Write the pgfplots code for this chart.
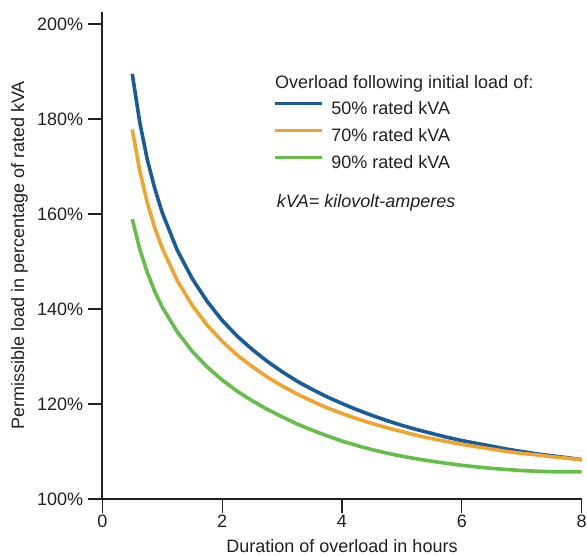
\documentclass[border=0pt]{standalone}
\usepackage{pgfplots}
\pgfplotsset{compat=1.18}
\usepackage{fontspec}
\setmainfont{Liberation Sans}
\definecolor{cblue}{RGB}{24,92,156}
\definecolor{corange}{RGB}{240,163,45}
\definecolor{cgreen}{RGB}{100,190,72}
\definecolor{ctext}{RGB}{35,31,32}
\begin{document}
\begin{tikzpicture}[font=\fontsize{18bp}{21bp}\selectfont, every node/.style={text=ctext}]
\useasboundingbox (-102.3bp,-57bp) rectangle (484.7bp,499bp);
\begin{axis}[
  at={(0,0)}, anchor=south west,
  scale only axis, width=479.4bp, height=486.9bp,
  xmin=0, xmax=8, ymin=100, ymax=202.5,
  axis lines=left,
  axis line style={-, line width=1.6bp, ctext},
  xtick={0,2,4,6,8}, ytick={100,120,140,160,180,200},
  tick style={line width=1.1bp, ctext},
  tick align=outside,
  major tick length=14bp,
  /pgf/number format/assume math mode=true,
  yticklabel={\pgfmathprintnumber{\tick}\%},
  ticklabel style={font=\fontsize{18bp}{21bp}\selectfont, text=ctext},
  xticklabel style={inner sep=1bp, yshift=-1bp},
  yticklabel style={inner sep=1bp, xshift=-4bp},
  xlabel={Duration of overload in hours},
  ylabel={Permissible load in percentage of rated kVA},
  label style={font=\fontsize{18bp}{21bp}\selectfont, text=ctext},
  xlabel style={at={(axis description cs:0.5,0)}, anchor=north, yshift=-37bp},
  ylabel style={at={(axis description cs:0,0.5)}, anchor=south, yshift=71bp},
  legend cell align=left,
  legend image code/.code={\draw[#1] (0bp,6.3bp) -- (47bp,6.3bp); \path (55bp,0bp);},
  legend style={draw=none, fill=none, inner sep=0pt, outer sep=0pt,
    at={(rel axis cs:0.3555,0.8164)}, anchor=north west,
    nodes={inner sep=0pt, text height=13bp, text depth=4bp, text=ctext},
    row sep=10bp, font=\fontsize{18bp}{21bp}\selectfont},
  every axis plot/.append style={line width=3.6bp, line join=round},
]
\addplot[cblue] coordinates {
(0.5,189.5) (0.625,179.3) (0.75,171.5) (0.875,165.4) (1.0,160.3) (1.25,152.4)
(1.5,146.4) (1.75,141.6) (2.0,137.6) (2.25,134.3) (2.5,131.5) (2.75,129.0)
(3.0,126.8) (3.25,124.8) (3.5,123.1) (3.75,121.5) (4.0,120.1) (4.25,118.8)
(4.5,117.6) (4.75,116.5) (5.0,115.5) (5.25,114.6) (5.5,113.8) (5.75,113.0)
(6.0,112.3) (6.25,111.7) (6.5,111.1) (6.75,110.5) (7.0,110.0) (7.25,109.5)
(7.5,109.1) (7.75,108.7) (8.0,108.3)};
\addlegendentry{50\% rated kVA}
\addplot[corange] coordinates {
(0.5,177.8) (0.625,169.1) (0.75,162.4) (0.875,157.1) (1.0,152.8) (1.25,146.0)
(1.5,140.8) (1.75,136.6) (2.0,133.2) (2.25,130.3) (2.5,127.9) (2.75,125.7)
(3.0,123.8) (3.25,122.1) (3.5,120.6) (3.75,119.2) (4.0,118.0) (4.25,116.9)
(4.5,115.9) (4.75,115.0) (5.0,114.2) (5.25,113.4) (5.5,112.7) (5.75,112.1)
(6.0,111.5) (6.25,111.0) (6.5,110.5) (6.75,110.0) (7.0,109.6) (7.25,109.3)
(7.5,108.9) (7.75,108.6) (8.0,108.3)};
\addlegendentry{70\% rated kVA}
\addplot[cgreen] coordinates {
(0.5,158.9) (0.625,152.6) (0.75,147.7) (0.875,143.7) (1.0,140.4) (1.25,135.2)
(1.5,131.1) (1.75,127.8) (2.0,125.05) (2.25,122.7) (2.5,120.7) (2.75,118.9)
(3.0,117.3) (3.25,115.8) (3.5,114.5) (3.75,113.3) (4.0,112.2) (4.25,111.25)
(4.5,110.4) (4.75,109.65) (5.0,109.0) (5.25,108.45) (5.5,107.95) (5.75,107.5)
(6.0,107.1) (6.25,106.75) (6.5,106.45) (6.75,106.2) (7.0,106.0) (7.25,105.85)
(7.5,105.75) (7.75,105.7) (8.0,105.7)};
\addlegendentry{90\% rated kVA}
\end{axis}
\node[anchor=base west, inner sep=0pt] at (172.7bp,410.7bp) {Overload following initial load of:};
\node[anchor=base west, inner sep=0pt] at (174.4bp,291.3bp) {\itshape kVA= kilovolt-amperes};
\end{tikzpicture}
\end{document}
